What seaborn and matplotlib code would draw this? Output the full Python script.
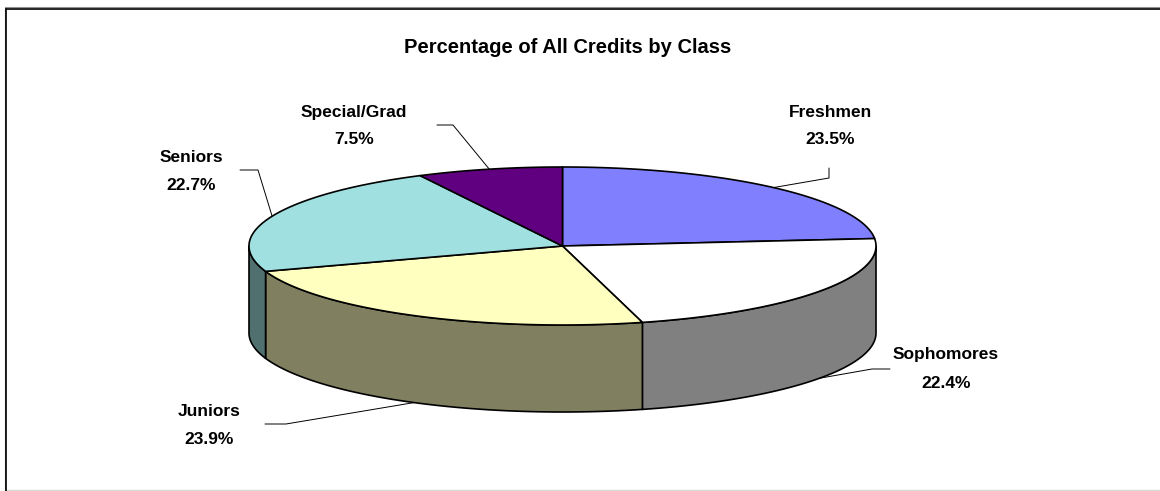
import numpy as np
import matplotlib
matplotlib.use("Agg")
import matplotlib.pyplot as plt
import seaborn as sns
from matplotlib.patches import Polygon

sns.set_theme(style="white")
plt.rcParams['font.family'] = ['Liberation Sans', 'DejaVu Sans']

# ---- data ----
categories = ["Freshmen", "Sophomores", "Juniors", "Seniors", "Special/Grad"]
percents = [23.5, 22.4, 23.9, 22.7, 7.5]
title = "Percentage of All Credits by Class"

# ---- style / layout ----
top_colors = ["#8080FF", "#FFFFFF", "#FFFFC0", "#A0E0E0", "#600080"]
cx, cy, ra, rb, depth = 562.5, 246.0, 313.5, 79.0, 87.0
# label centers (name line y, pct line y) and leader-line start/elbow
label_pos = [(830, 112, 139), (946, 355, 383), (209, 411, 439), (191, 157, 186), (354, 112, 140)]
leader_pts = [[(829, 168), (829, 178)], [(890, 369), (872, 369)], [(265, 424), (286, 424)],
              [(240, 170), (258, 170)], [(437, 125), (453, 125)]]
anchor_on_bottom = [False, True, True, False, False]
label_fs = 12.5
title_fs = 14.5

fig = plt.figure(figsize=(11.6, 4.91), dpi=100)
ax = fig.add_axes([0, 0, 1, 1])
ax.set_xlim(0, 1160)
ax.set_ylim(491, 0)
ax.axis("off")


def pt(theta_deg, dy=0.0):
    t = np.radians(theta_deg)
    return cx + ra * np.sin(t), cy - rb * np.cos(t) + dy


def darker(hexcol, f=0.5):
    r, g, b = matplotlib.colors.to_rgb(hexcol)
    return (r * f, g * f, b * f)


vals = np.array(percents, dtype=float)
cum = np.concatenate([[0], np.cumsum(vals)]) / vals.sum() * 360.0
lw = 1.2

# sides (front half: theta in [90, 270])
for i in range(len(vals)):
    t0, t1 = max(cum[i], 90.0), min(cum[i + 1], 270.0)
    if t1 <= t0:
        continue
    th = np.linspace(t0, t1, 200)
    top = [pt(t) for t in th]
    bot = [pt(t, depth) for t in th[::-1]]
    ax.add_patch(Polygon(top + bot, closed=True, facecolor=darker(top_colors[i]),
                         edgecolor="black", lw=lw, joinstyle="round", zorder=2))

# top face
for i in range(len(vals)):
    th = np.linspace(cum[i], cum[i + 1], 300)
    poly = [(cx, cy)] + [pt(t) for t in th]
    ax.add_patch(Polygon(poly, closed=True, facecolor=top_colors[i],
                         edgecolor="black", lw=lw, joinstyle="round", zorder=3))

# labels and leader lines
for i, name in enumerate(categories):
    x, y1, y2 = label_pos[i]
    ax.text(x, y1, name, ha="center", va="center", fontsize=label_fs, fontweight="bold", color="black")
    ax.text(x, y2, f"{percents[i]:.1f}%", ha="center", va="center", fontsize=label_fs,
            fontweight="bold", color="black")
    mid = (cum[i] + cum[i + 1]) / 2
    ex, ey = pt(mid, depth if anchor_on_bottom[i] else 0.0)
    pts = leader_pts[i] + [(ex, ey)]
    ax.plot([p[0] for p in pts], [p[1] for p in pts], color="black", lw=0.7, zorder=4)

ax.text(568, 47, title, ha="center", va="center", fontsize=title_fs, fontweight="bold", color="black")

# frame
ax.plot([5, 1160], [7, 7], color="#909090", lw=0.8, zorder=5)
ax.plot([4.5, 4.5], [7, 491], color="#909090", lw=0.8, zorder=5)
ax.plot([6, 1160], [8.5, 8.5], color="black", lw=1.2, zorder=6)
ax.plot([6, 6], [8.5, 491], color="black", lw=1.2, zorder=6)
ax.plot([6, 1160], [490, 490], color="#D8D8D8", lw=1.0, zorder=5)

fig.savefig("out.png", dpi=100)
